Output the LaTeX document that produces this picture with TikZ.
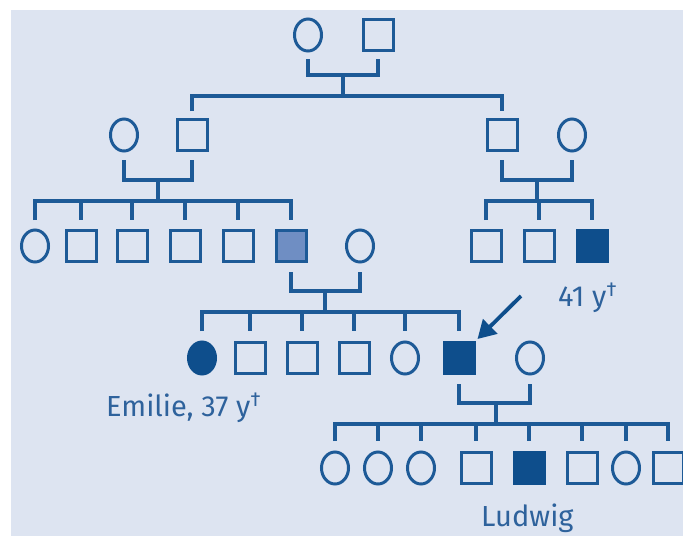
\documentclass[tikz,border=0pt]{standalone}
\usepackage{fontspec}
\setmainfont{Fira Sans}
\usetikzlibrary{shapes.geometric,arrows.meta}
\definecolor{bg}{HTML}{DDE4F1}
\definecolor{ln}{HTML}{1D5A97}
\definecolor{dk}{HTML}{0E4E8C}
\definecolor{md}{HTML}{6F8EC3}
\definecolor{tx}{HTML}{2E629C}
\begin{document}
\begin{tikzpicture}[x=1pt,y=-1pt,
  fem/.style={ellipse, draw=ln, minimum width=27pt, minimum height=32pt, inner sep=0pt, line width=3pt},
  mal/.style={rectangle, draw=ln, minimum width=30pt, minimum height=31pt, inner sep=0pt, line width=3pt},
  aff/.style={fill=dk, draw=dk},
  part/.style={fill=md},
  con/.style={draw=ln, line width=3.2pt},
  lbl/.style={text=tx, font=\fontsize{29}{29}\selectfont, inner sep=0pt, anchor=base west}
]
\useasboundingbox (0,0) rectangle (683,536);
\fill[white] (0,0) rectangle (683,536);
\fill[bg] (11,10) rectangle (683,536);
\begin{scope}
\clip (11,10) rectangle (683,536);
% row 1
\node[fem] (w1) at (308,35) {};
\node[mal] (h1) at (378,35) {};
% row 2
\node[fem] (a) at (124,135) {};
\node[mal] (b) at (192,135) {};
\node[mal] (c) at (502,135) {};
\node[fem] (d) at (572,135) {};
% row 3
\node[fem] (l1) at (35,246) {};
\node[mal] (l2) at (81,246) {};
\node[mal] (l3) at (132,246) {};
\node[mal] (l4) at (185,246) {};
\node[mal] (l5) at (238,246) {};
\node[mal,part] (l6) at (291,246) {};
\node[fem] (s3) at (360,246) {};
\node[mal] (r1) at (486,246) {};
\node[mal] (r2) at (539,246) {};
\node[mal,aff] (r3) at (592,246) {};
% row 4
\node[fem,aff] (e1) at (202,358) {};
\node[mal] (e2) at (250,358) {};
\node[mal] (e3) at (302,358) {};
\node[mal] (e4) at (354,358) {};
\node[fem] (e5) at (405,358) {};
\node[mal,aff] (e6) at (459,358) {};
\node[fem] (s4) at (530,358) {};
% row 5
\node[fem] (f1) at (335,468) {};
\node[fem] (f2) at (378,468) {};
\node[fem] (f3) at (421,468) {};
\node[mal] (f4) at (476,468) {};
\node[mal,aff] (f5) at (529,468) {};
\node[mal] (f6) at (582,468) {};
\node[fem] (f7) at (626,468) {};
\node[mal] (f8) at (668,468) {};

% generation 1 -> 2
\draw[con] (w1 |- 0,59) -- (w1 |- 0,75) -- (h1 |- 0,75) -- (h1 |- 0,59);
\coordinate (j1) at (343,75);
\coordinate (k1) at (343,96);
\draw[con] (j1) -- (k1);
\draw[con] (b |- 0,111) -- (b |- k1) -- (c |- k1) -- (c |- 0,111);

% left family
\draw[con] (a |- 0,160) -- (a |- 0,180) -- (b |- 0,180) -- (b |- 0,160);
\coordinate (j2) at (158,180);
\coordinate (k2) at (158,201);
\draw[con] (j2) -- (k2);
\draw[con] (l1 |- 0,220) -- (l1 |- k2) -- (l6 |- k2) -- (l6 |- 0,220);
\foreach \n in {l2,l3,l4,l5} \draw[con] (\n |- k2) -- (\n |- 0,220);

% right family
\draw[con] (c |- 0,160) -- (c |- 0,180) -- (d |- 0,180) -- (d |- 0,160);
\coordinate (j3) at (537,180);
\coordinate (k3) at (537,201);
\draw[con] (j3) -- (k3);
\draw[con] (r1 |- 0,220) -- (r1 |- k3) -- (r3 |- k3) -- (r3 |- 0,220);
\draw[con] (r2 |- k3) -- (r2 |- 0,220);

% generation 3 -> 4
\draw[con] (l6 |- 0,272) -- (l6 |- 0,291) -- (s3 |- 0,291) -- (s3 |- 0,272);
\coordinate (j4) at (325,291);
\coordinate (k4) at (325,312);
\draw[con] (j4) -- (k4);
\draw[con] (e1 |- 0,331) -- (e1 |- k4) -- (e6 |- k4) -- (e6 |- 0,331);
\foreach \n in {e2,e3,e4,e5} \draw[con] (\n |- k4) -- (\n |- 0,331);

% generation 4 -> 5
\draw[con] (e6 |- 0,384) -- (e6 |- 0,403) -- (s4 |- 0,403) -- (s4 |- 0,384);
\coordinate (j5) at (496,403);
\coordinate (k5) at (496,424);
\draw[con] (j5) -- (k5);
\draw[con] (f1 |- 0,441) -- (f1 |- k5) -- (f8 |- k5) -- (f8 |- 0,441);
\foreach \n in {f2,f3,f4,f5,f6,f7} \draw[con] (\n |- k5) -- (\n |- 0,441);

% proband arrow
\coordinate (ar) at (521,296);
\draw[draw=dk, line width=3.8pt, -{Triangle[length=18pt,width=20pt]}] (ar) -- ([xshift=2pt,yshift=2pt]e6.north east);

% labels
\node[lbl] (t41) at (558,306) {41 y\textsuperscript{†}};
\node[lbl] (tem) at (106,416) {Emilie, 37 y\textsuperscript{†}};
\node[lbl] (tlu) at (481,526) {Ludwig};
\end{scope}
\end{tikzpicture}
\end{document}
